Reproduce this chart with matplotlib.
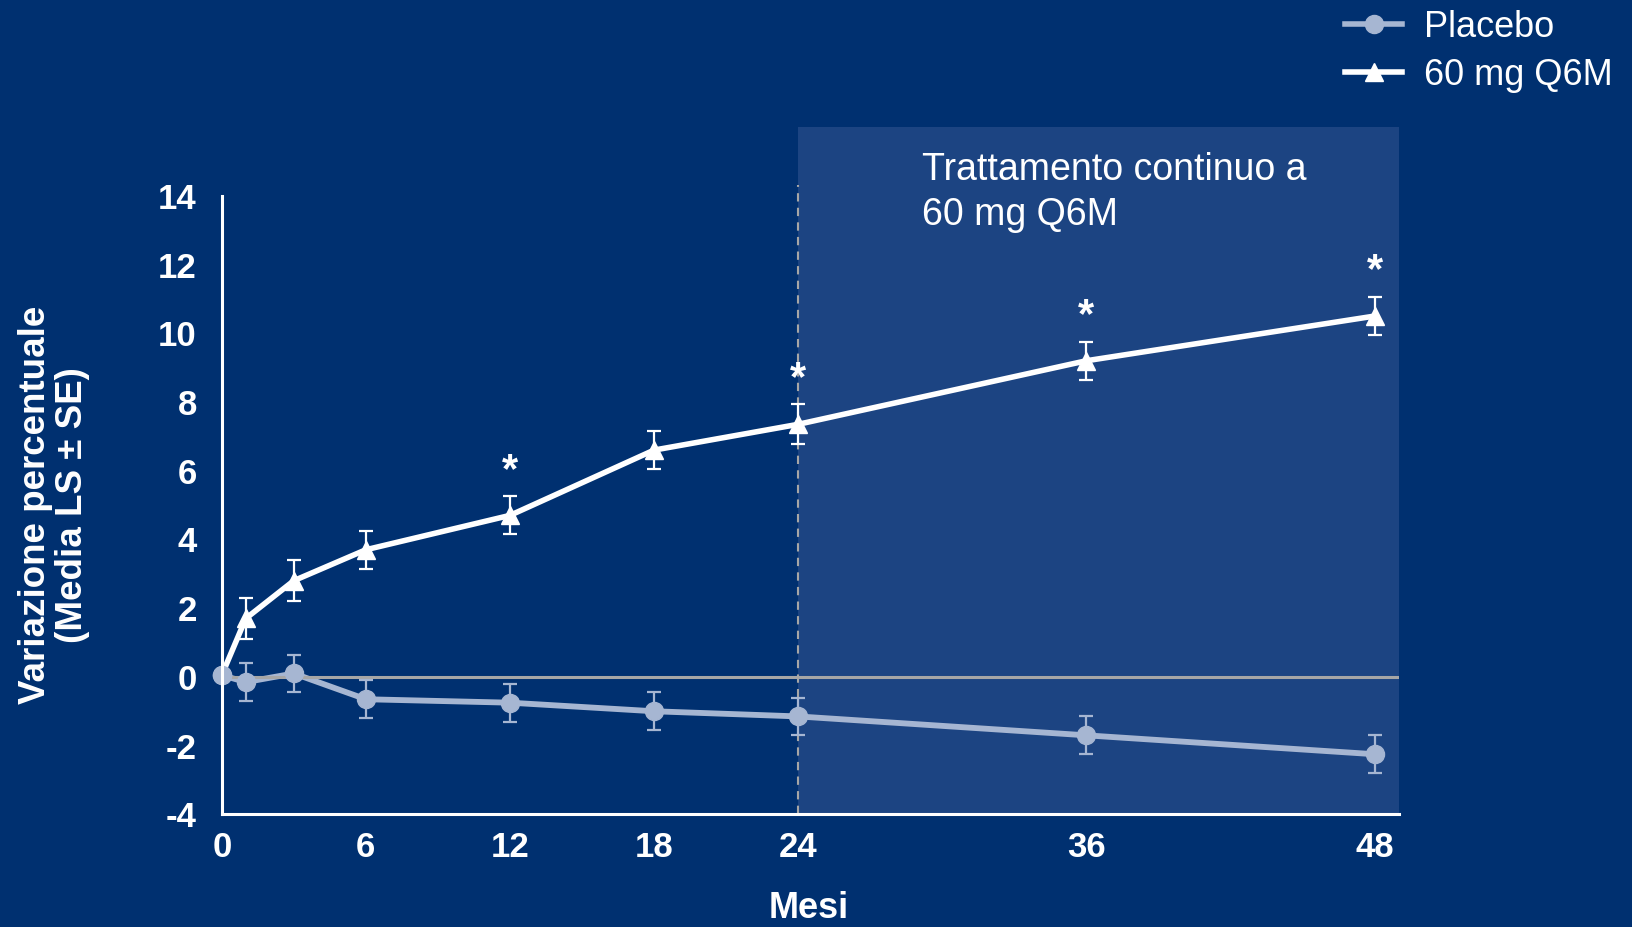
import matplotlib
matplotlib.use("Agg")
import matplotlib.pyplot as plt
from matplotlib.patches import Rectangle

#Data
months = [0, 1, 3, 6, 12, 18, 24, 36, 48]
placebo = [0.05, -0.15, 0.1, -0.65, -0.75, -1.0, -1.15, -1.7, -2.25]
placebo_se = [0, 0.55, 0.55, 0.55, 0.55, 0.55, 0.55, 0.55, 0.55]
q6m = [0.05, 1.7, 2.8, 3.7, 4.7, 6.6, 7.35, 9.2, 10.5]
q6m_se = [0, 0.6, 0.6, 0.55, 0.55, 0.55, 0.58, 0.55, 0.55]
star_months = [12, 24, 36, 48]
xticks = [0, 6, 12, 18, 24, 36, 48]
yticks = [-4, -2, 0, 2, 4, 6, 8, 10, 12, 14]

#Colours
bg = "#003070"
shade = "#1C4482"
placebo_col = "#A6B6D2"
white = "white"
grey = "#A6A6A6"

plt.rcParams['font.family'] = ['Liberation Sans', 'DejaVu Sans']
plt.rcParams['axes.unicode_minus'] = False

fig = plt.figure(figsize=(16.33, 9.27), dpi=100)
fig.patch.set_facecolor(bg)
ax = fig.add_axes([0.1358, 0.1215, 0.7207, 0.6673])
ax.set_facecolor(bg)

ax.set_xlim(0, 49)
ax.set_ylim(-4, 14)

#shaded continuous-treatment region (goes above the axis top)
ax.add_patch(Rectangle((24, -4), 25, 20, facecolor=shade, edgecolor='none',
                       zorder=0, clip_on=False))
ax.plot([24, 24], [-4, 14.3], color=grey, lw=1.5, ls=(0, (4, 3)), zorder=1, clip_on=False)

#placebo
ax.plot(months, placebo, color=placebo_col, lw=4.2, zorder=2)
ax.axhline(0, color=grey, lw=2.2, zorder=2.5)
ax.errorbar(months[1:], placebo[1:], yerr=placebo_se[1:], fmt='none', ecolor=placebo_col,
            elinewidth=1.6, capsize=5, capthick=1.6, zorder=3)
ax.plot(months, placebo, color=placebo_col, lw=0, marker='o', ms=13, zorder=3,
        clip_on=False)

#60 mg Q6M
ax.errorbar(months[1:], q6m[1:], yerr=q6m_se[1:], fmt='none', ecolor=white,
            elinewidth=1.6, capsize=5, capthick=1.6, zorder=4)
ax.plot(months[1:], q6m[1:], color=white, lw=4, marker='^', ms=13, zorder=4)
ax.plot(months[:2], q6m[:2], color=white, lw=4, zorder=4)
ax.plot(months[0], placebo[0], color=placebo_col, marker='o', ms=13, zorder=5, clip_on=False)

#significance stars
for m in star_months:
    i = months.index(m)
    ax.text(m, q6m[i] + q6m_se[i] + 0.75, "*", color=white, fontsize=30,
            fontweight='bold', ha='center', va='center', zorder=6)

#legend handles
h1, = ax.plot([], [], color=placebo_col, lw=4, marker='o', ms=13)
h2, = ax.plot([], [], color=white, lw=4, marker='^', ms=13)
fig.legend([h1, h2], ["Placebo", "60 mg Q6M"], loc='upper left',
           bbox_to_anchor=(0.819, 0.997), frameon=False, fontsize=26,
           labelcolor=white, handlelength=1.6, handletextpad=0.6,
           labelspacing=0.35, borderpad=0.2, borderaxespad=0)

#spines and ticks
for s in ['top', 'right']:
    ax.spines[s].set_visible(False)
for s in ['left', 'bottom']:
    ax.spines[s].set_color(white)
    ax.spines[s].set_linewidth(2.2)
ax.spines['left'].set_zorder(7)
ax.spines['bottom'].set_zorder(7)

ax.set_xticks(xticks)
ax.set_yticks(yticks)
ax.tick_params(length=0, colors=white, labelsize=25)
ax.tick_params(axis='y', pad=18)
ax.tick_params(axis='x', pad=12)
for lab in ax.get_xticklabels() + ax.get_yticklabels():
    lab.set_fontweight('bold')

fig.text(0.033, 0.455, "Variazione percentuale\n(Media LS ± SE)", rotation=90,
         color=white, fontsize=26.5, fontweight='bold', ha='center', va='center',
         multialignment='center', linespacing=1.05)
fig.text(0.495, 0.02, "Mesi", color=white, fontsize=26, fontweight='bold',
         ha='center', va='center')

ax.text(0.5645, 0.7925, "Trattamento continuo a\n60 mg Q6M", transform=fig.transFigure,
        color=white, fontsize=27, ha='left', va='center', linespacing=1.3)

fig.savefig("out.png", dpi=100, facecolor=bg)
